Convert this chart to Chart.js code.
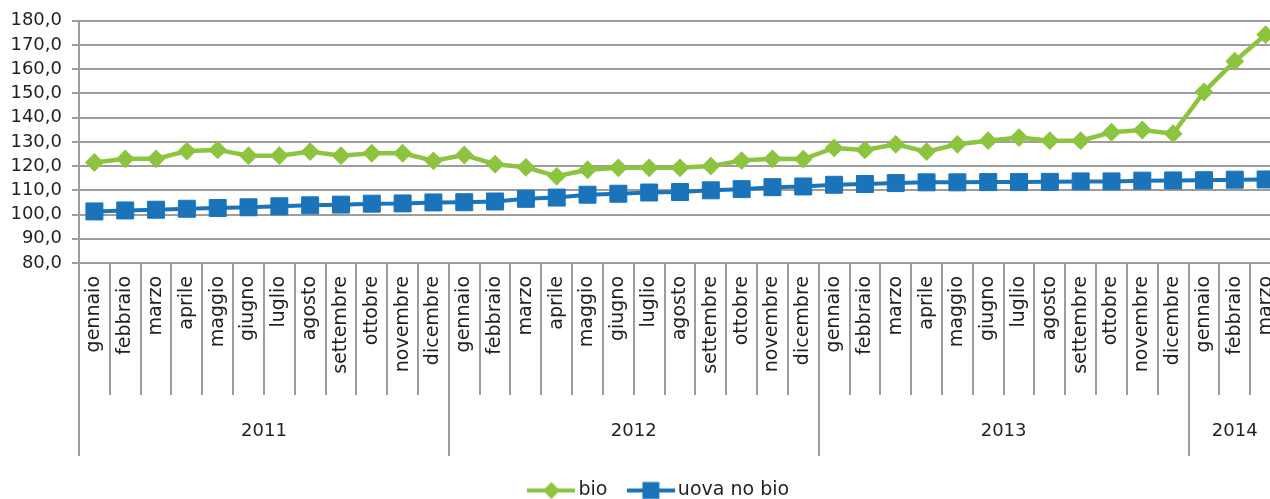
<!DOCTYPE html>
<html>
<head>
<meta charset="utf-8">
<script src="https://cdn.jsdelivr.net/npm/chart.js@4/dist/chart.umd.min.js"></script>
<style>
  html, body { margin: 0; padding: 0; background: #fff; overflow: hidden; }
  #wrap { width: 1270px; height: 499px; overflow: hidden; }
  canvas { display: block; }
</style>
</head>
<body>
<div id="wrap"><canvas id="chart" width="1281" height="499"></canvas></div>
<script>
    const monthNames = ['gennaio', 'febbraio', 'marzo', 'aprile', 'maggio', 'giugno',
        'luglio', 'agosto', 'settembre', 'ottobre', 'novembre', 'dicembre'];
    const years = ['2011', '2012', '2013', '2014'];
    const monthsPerYear = [12, 12, 12, 3];
    const labels = [...monthNames, ...monthNames, ...monthNames, ...monthNames.slice(0, 3)];

    const bio = [
        121.5, 123.0, 123.0, 126.2, 126.7, 124.3, 124.3, 126.0, 124.3, 125.3, 125.3, 122.2,
        124.6, 120.8, 119.5, 115.8, 118.5, 119.3, 119.3, 119.3, 120.0, 122.3, 123.0, 122.9,
        127.5, 126.7, 129.0, 126.0, 129.0, 130.5, 131.8, 130.5, 130.5, 134.0, 134.9, 133.4,
        150.6, 163.3, 174.3
    ];
    const uovaNoBio = [
        101.3, 101.7, 102.0, 102.4, 102.7, 103.0, 103.4, 103.8, 104.1, 104.5, 104.6, 105.0,
        105.1, 105.4, 106.5, 107.0, 108.2, 108.6, 109.1, 109.3, 110.0, 110.5, 111.3, 111.6,
        112.3, 112.6, 113.0, 113.3, 113.3, 113.4, 113.4, 113.5, 113.7, 113.7, 114.0, 114.1,
        114.2, 114.4, 114.5
    ];
    const yTicks = [80, 90, 100, 110, 120, 130, 140, 150, 160, 170, 180];

    const GREEN = '#8cc43f';
    const BLUE = '#1b74ba';
    const GRID = '#9d9d9d';
    const TEXT = '#231f20';
    const FONT = "'DejaVu Sans', sans-serif";

    // legend icons: line with marker in the middle
    function makeIcon(color, shape) {
        const c = document.createElement('canvas');
        c.width = 48;
        c.height = 20;
        const g = c.getContext('2d');
        g.strokeStyle = color;
        g.fillStyle = color;
        g.lineWidth = 4;
        g.beginPath();
        g.moveTo(0, 10);
        g.lineTo(48, 10);
        g.stroke();
        g.beginPath();
        if (shape === 'diamond') {
            g.moveTo(24, 1.5); g.lineTo(32.5, 10); g.lineTo(24, 18.5); g.lineTo(15.5, 10);
            g.closePath();
        } else {
            g.rect(15.5, 1.5, 17, 17);
        }
        g.fill();
        return c;
    }
    const legendIcons = [makeIcon(GREEN, 'diamond'), makeIcon(BLUE, 'square')];

    // month separators, year separators and year labels under the axis
    const yearGroups = {
        id: 'yearGroups',
        afterLayout(chart) {
            // nudge the legend to where the original has it
            const lg = chart.legend;
            lg.left += 21; lg.right += 21;
            lg.top += 2; lg.bottom += 2;
        },
        afterDraw(chart) {
            const x = chart.scales.x;
            const ctx = chart.ctx;
            const step = x.getPixelForValue(1) - x.getPixelForValue(0);
            const top = x.top;
            const yearStarts = [];
            let acc = 0;
            monthsPerYear.forEach(n => { yearStarts.push(acc); acc += n; });

            ctx.save();
            ctx.strokeStyle = GRID;
            ctx.lineWidth = 2;
            for (let i = 0; i <= labels.length; i++) {
                const px = Math.round(x.getPixelForValue(i) - step / 2);
                const isYear = yearStarts.includes(i) || i === labels.length;
                ctx.beginPath();
                ctx.moveTo(px, top);
                ctx.lineTo(px, top + (isYear ? 193 : 132));
                ctx.stroke();
            }
            ctx.fillStyle = TEXT;
            ctx.font = '18px ' + FONT;
            ctx.textAlign = 'center';
            ctx.textBaseline = 'middle';
            years.forEach((yr, k) => {
                const a = x.getPixelForValue(yearStarts[k]) - step / 2;
                const b = x.getPixelForValue(yearStarts[k] + monthsPerYear[k] - 1) + step / 2;
                ctx.fillText(yr, (a + b) / 2, top + 168);
            });
            ctx.restore();
        }
    };

    new Chart(document.getElementById('chart'), {
        type: 'line',
        data: {
            labels: labels,
            datasets: [{
                label: 'bio',
                data: bio,
                borderColor: GREEN,
                backgroundColor: GREEN,
                borderWidth: 4.5,
                pointStyle: 'rectRot',
                pointRadius: 8,
                pointBorderWidth: 2,
                pointBorderColor: GREEN,
                pointBackgroundColor: GREEN,
                tension: 0
            }, {
                label: 'uova no bio',
                data: uovaNoBio,
                borderColor: BLUE,
                backgroundColor: BLUE,
                borderWidth: 4,
                pointStyle: 'rect',
                pointRadius: 12,
                pointBorderWidth: 1,
                pointBorderColor: BLUE,
                pointBackgroundColor: BLUE,
                tension: 0
            }]
        },
        options: {
            responsive: false,
            animation: false,
            layout: { autoPadding: false, padding: { top: 19, left: 0, right: 0, bottom: -9 } },
            scales: {
                x: {
                    type: 'category',
                    offset: true,
                    grid: { display: false, drawTicks: false },
                    border: { display: false },
                    ticks: {
                        autoSkip: false,
                        minRotation: 90,
                        maxRotation: 90,
                        padding: 13,
                        color: TEXT,
                        font: { family: FONT, size: 19 }
                    },
                    afterFit(scale) {
                        scale.height = 190;
                        scale.paddingLeft = 0;
                        scale.paddingRight = 0;
                    }
                },
                y: {
                    min: 80,
                    max: 180,
                    afterBuildTicks(scale) { scale.ticks = yTicks.map(v => ({ value: v })); },
                    grid: { color: GRID, lineWidth: 2, tickLength: 7 },
                    border: { display: true, color: GRID, width: 2 },
                    ticks: {
                        autoSkip: false,
                        padding: 10,
                        color: TEXT,
                        font: { family: FONT, size: 18 },
                        callback: v => v.toFixed(1).replace('.', ',')
                    },
                    afterFit(scale) { scale.width = 79; }
                }
            },
            plugins: {
                tooltip: { enabled: false },
                legend: {
                    position: 'bottom',
                    labels: {
                        usePointStyle: true,
                        pointStyleWidth: 35,
                        padding: 26,
                        color: TEXT,
                        font: { family: FONT, size: 19 },
                        generateLabels(chart) {
                            const items = Chart.defaults.plugins.legend.labels.generateLabels(chart);
                            items.forEach((it, i) => { it.pointStyle = legendIcons[i]; });
                            return items;
                        }
                    }
                }
            }
        },
        plugins: [yearGroups]
    });
</script>
</body>
</html>
